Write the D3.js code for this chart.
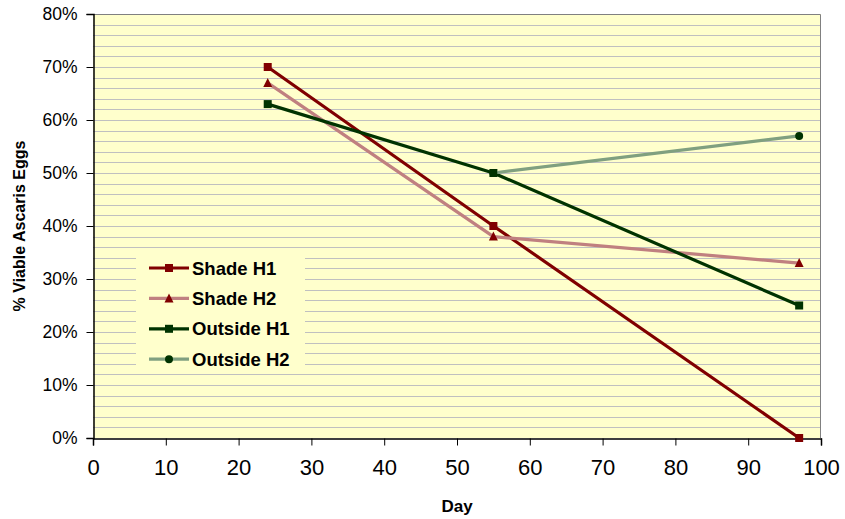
<!DOCTYPE html>
<html>
<head>
<meta charset="utf-8">
<script src="https://cdn.jsdelivr.net/npm/d3@7"></script>
<style>
  html, body { margin: 0; padding: 0; background: #fff; }
  svg { display: block; font-family: Arial, "Liberation Sans", sans-serif; }
</style>
</head>
<body>
<svg id="chart" width="845" height="519"></svg>
<script>
// Percentage of viable Ascaris eggs over time, by storage location and heap
const days = [24, 55, 97];
const shadeH1 = [70, 40, 0];
const shadeH2 = [67, 38, 33];
const outsideH1 = [63, 50, 25];
const outsideH2Days = [55, 97];
const outsideH2 = [50, 57];

const xTicks = [0, 10, 20, 30, 40, 50, 60, 70, 80, 90, 100];
const yTicks = [0, 10, 20, 30, 40, 50, 60, 70, 80];
const seriesNames = ["Shade H1", "Shade H2", "Outside H1", "Outside H2"];

const series = [
  { name: seriesNames[0], xs: days, ys: shadeH1, line: "#800000", mark: "#800000", shape: "square" },
  { name: seriesNames[1], xs: days, ys: shadeH2, line: "#c08080", mark: "#800000", shape: "triangle" },
  { name: seriesNames[2], xs: days, ys: outsideH1, line: "#003300", mark: "#003300", shape: "square" },
  { name: seriesNames[3], xs: outsideH2Days, ys: outsideH2, line: "#80a080", mark: "#003300", shape: "circle" }
];

const svg = d3.select("#chart");
const plot = { left: 93, right: 821, top: 14, bottom: 438 };

const x = d3.scaleLinear().domain([0, 100]).range([plot.left, plot.right]);
const y = d3.scaleLinear().domain([0, 80]).range([plot.bottom, plot.top]);

// plot area background
svg.append("rect")
  .attr("x", plot.left).attr("y", plot.top)
  .attr("width", plot.right - plot.left).attr("height", plot.bottom - plot.top)
  .attr("fill", "#ffffcc");

// horizontal gridlines every 2%
svg.append("g")
  .selectAll("line")
  .data(d3.range(2, 80, 2))
  .join("line")
  .attr("x1", plot.left).attr("x2", plot.right)
  .attr("y1", d => Math.round(y(d)) + 0.5).attr("y2", d => Math.round(y(d)) + 0.5)
  .attr("stroke", "#c0c0c0").attr("stroke-width", 1);

// top and right border of plot area
svg.append("path")
  .attr("d", `M${plot.left},${plot.top + 0.5}H${plot.right - 0.5}V${plot.bottom}`)
  .attr("fill", "none").attr("stroke", "#808080").attr("stroke-width", 1);

// y axis
const yAxis = svg.append("g")
  .attr("transform", `translate(${plot.left + 0.5},0)`)
  .call(d3.axisLeft(y).tickValues(yTicks).tickSize(7).tickPadding(9).tickFormat(d => d + "%"));
yAxis.select(".domain").attr("stroke", "#000").attr("stroke-width", 1.5);
yAxis.selectAll(".tick line").attr("stroke", "#000");
yAxis.selectAll(".tick text")
  .attr("font-size", 17.5).attr("fill", "#000").attr("font-family", "Arial, 'Liberation Sans', sans-serif");

// x axis
const xAxis = svg.append("g")
  .attr("transform", `translate(0,${plot.bottom + 0.5})`)
  .call(d3.axisBottom(x).tickValues(xTicks).tickSize(7).tickPadding(14));
xAxis.select(".domain").attr("stroke", "#000").attr("stroke-width", 1.5);
xAxis.selectAll(".tick line").attr("stroke", "#000");
xAxis.selectAll(".tick text")
  .attr("font-size", 22).attr("fill", "#000").attr("font-family", "Arial, 'Liberation Sans', sans-serif");

// axis titles
svg.append("text")
  .attr("x", x(50)).attr("y", 512)
  .attr("text-anchor", "middle").attr("font-size", 17).attr("font-weight", "bold")
  .text("Day");
svg.append("text")
  .attr("transform", `translate(25,${(plot.top + plot.bottom) / 2}) rotate(-90)`)
  .attr("text-anchor", "middle").attr("font-size", 16).attr("font-weight", "bold")
  .text("% Viable Ascaris Eggs");

// marker drawing helper
function drawMarker(g, shape, color, cx, cy) {
  if (shape === "square") {
    g.append("rect").attr("x", cx - 4).attr("y", cy - 4).attr("width", 8).attr("height", 8).attr("fill", color);
  } else if (shape === "triangle") {
    g.append("path").attr("d", `M${cx},${cy - 5}L${cx + 4.5},${cy + 4}L${cx - 4.5},${cy + 4}Z`).attr("fill", color);
  } else {
    g.append("circle").attr("cx", cx).attr("cy", cy).attr("r", 4).attr("fill", color);
  }
}

// series lines and markers
const line = d3.line().x(d => x(d[0])).y(d => y(d[1]));
series.forEach(s => {
  const pts = s.xs.map((d, i) => [d, s.ys[i]]);
  const g = svg.append("g");
  g.append("path").attr("d", line(pts)).attr("fill", "none")
    .attr("stroke", s.line).attr("stroke-width", 3.2).attr("stroke-linejoin", "round");
  pts.forEach(p => drawMarker(g, s.shape, s.mark, x(p[0]), y(p[1])));
});

// legend
const legend = svg.append("g");
legend.append("rect").attr("x", 136).attr("y", 251).attr("width", 169).attr("height", 121).attr("fill", "#ffffcc");
series.forEach((s, i) => {
  const cy = 268 + i * 30.4;
  legend.append("line").attr("x1", 149).attr("x2", 189).attr("y1", cy).attr("y2", cy)
    .attr("stroke", s.line).attr("stroke-width", 3.2);
  drawMarker(legend, s.shape, s.mark, 169, cy);
  legend.append("text").attr("x", 192).attr("y", cy + 6.5)
    .attr("font-size", 18.5).attr("font-weight", "bold").attr("fill", "#000")
    .text(s.name);
});
</script>
</body>
</html>
